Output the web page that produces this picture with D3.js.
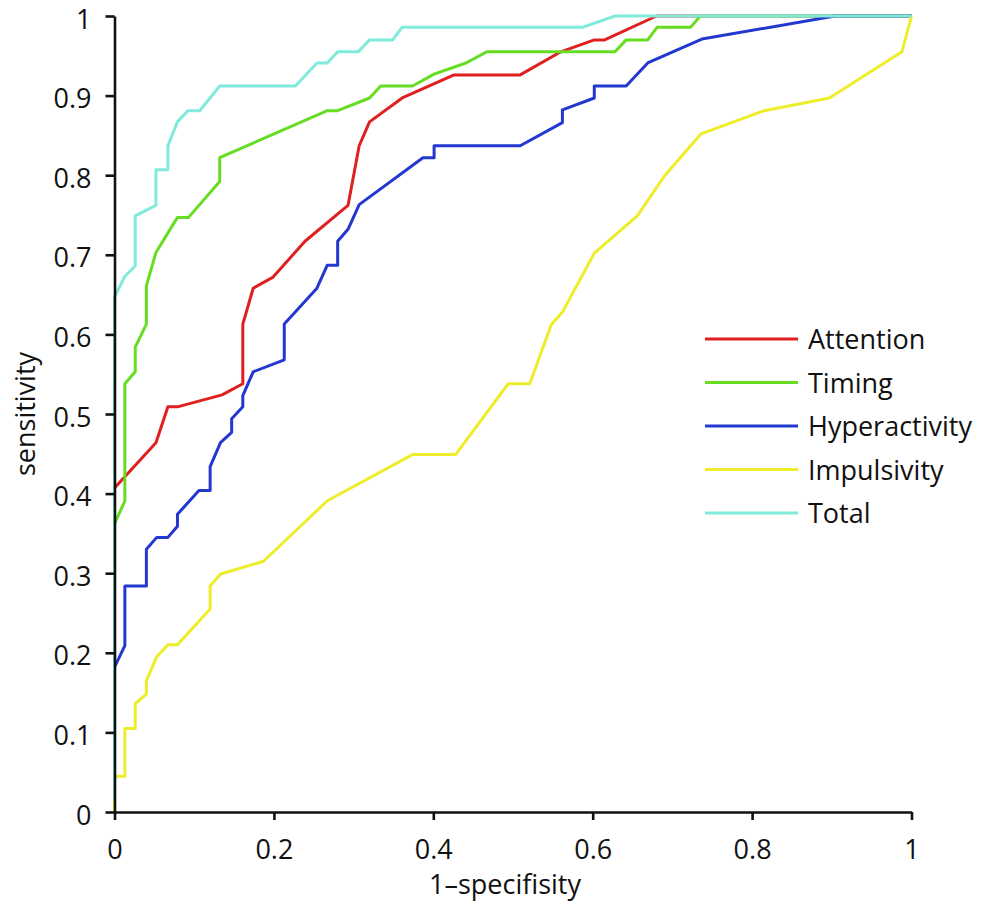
<!DOCTYPE html>
<html>
<head>
<meta charset="utf-8">
<script src="https://cdn.jsdelivr.net/npm/d3@7"></script>
<style>
  body { margin: 0; background: #fff; }
  svg text { font-family: "Open Sans", "Noto Sans", sans-serif; fill: #111; }
</style>
</head>
<body>
<svg id="chart" width="984" height="905"></svg>
<script>
  // ROC curves, [1-specificity, sensitivity]
  const attention = [[0,0],[0,0.407],[0.052,0.464],[0.067,0.509],[0.079,0.509],[0.135,0.524],[0.161,0.538],[0.161,0.613],[0.174,0.658],[0.199,0.672],[0.239,0.717],[0.293,0.762],[0.307,0.837],[0.320,0.867],[0.361,0.897],[0.426,0.926],[0.509,0.926],[0.560,0.955],[0.602,0.970],[0.615,0.970],[0.680,1],[1,1]];
  const timing = [[0,0],[0,0.362],[0.013,0.391],[0.013,0.538],[0.026,0.553],[0.026,0.584],[0.040,0.613],[0.040,0.661],[0.052,0.703],[0.079,0.747],[0.093,0.747],[0.132,0.792],[0.132,0.822],[0.267,0.881],[0.280,0.881],[0.320,0.897],[0.334,0.912],[0.374,0.912],[0.401,0.927],[0.441,0.941],[0.467,0.955],[0.628,0.955],[0.642,0.970],[0.669,0.970],[0.681,0.986],[0.723,0.986],[0.735,1],[1,1]];
  const hyperactivity = [[0,0],[0,0.182],[0.013,0.209],[0.013,0.284],[0.040,0.284],[0.040,0.330],[0.053,0.345],[0.067,0.345],[0.079,0.359],[0.079,0.374],[0.106,0.404],[0.120,0.404],[0.120,0.434],[0.133,0.464],[0.147,0.477],[0.147,0.494],[0.161,0.509],[0.161,0.523],[0.174,0.553],[0.213,0.568],[0.213,0.613],[0.254,0.658],[0.267,0.687],[0.280,0.687],[0.280,0.717],[0.293,0.732],[0.307,0.763],[0.387,0.822],[0.401,0.822],[0.401,0.837],[0.509,0.837],[0.562,0.866],[0.562,0.882],[0.602,0.897],[0.602,0.912],[0.642,0.912],[0.669,0.941],[0.737,0.971],[0.904,1],[1,1]];
  const impulsivity = [[0,0],[0,0.045],[0.013,0.045],[0.013,0.105],[0.026,0.105],[0.026,0.136],[0.040,0.148],[0.040,0.165],[0.053,0.195],[0.067,0.210],[0.079,0.210],[0.120,0.255],[0.120,0.284],[0.133,0.299],[0.187,0.315],[0.267,0.391],[0.374,0.449],[0.428,0.449],[0.494,0.538],[0.521,0.538],[0.548,0.612],[0.562,0.628],[0.602,0.702],[0.656,0.749],[0.690,0.799],[0.736,0.852],[0.815,0.881],[0.897,0.897],[0.988,0.955],[1,1]];
  const total = [[0,0.015],[0,0.647],[0.013,0.673],[0.026,0.686],[0.026,0.749],[0.052,0.762],[0.052,0.807],[0.067,0.807],[0.067,0.837],[0.079,0.867],[0.092,0.881],[0.107,0.881],[0.132,0.912],[0.227,0.912],[0.254,0.941],[0.267,0.941],[0.280,0.955],[0.306,0.955],[0.320,0.970],[0.349,0.970],[0.361,0.986],[0.588,0.986],[0.628,1],[1,1]];

  const seriesNames = ["Attention", "Timing", "Hyperactivity", "Impulsivity", "Total"];
  const seriesData = [attention, timing, hyperactivity, impulsivity, total];
  const seriesColors = ["#e02020", "#66dd22", "#2238d0", "#eded2a", "#80eadb"];
  const xTicks = [0, 0.2, 0.4, 0.6, 0.8, 1];
  const yTicks = [0, 0.1, 0.2, 0.3, 0.4, 0.5, 0.6, 0.7, 0.8, 0.9, 1];

  const svg = d3.select("#chart");
  const margin = { left: 114.5, top: 16 };
  const w = 797, h = 796;

  const x = d3.scaleLinear().domain([0, 1]).range([margin.left, margin.left + w]);
  const y = d3.scaleLinear().domain([0, 1]).range([margin.top + h, margin.top]);

  const line = d3.line().x(d => x(d[0])).y(d => y(d[1]));

  // curves
  seriesData.forEach((data, i) => {
    svg.append("path")
      .datum(data)
      .attr("d", line)
      .attr("fill", "none")
      .attr("stroke", seriesColors[i])
      .attr("stroke-width", 3)
      .attr("stroke-linejoin", "round");
  });

  const fmt = d => d === 0 || d === 1 ? String(d) : d3.format(".1f")(d);

  const xAxis = svg.append("g")
    .attr("transform", `translate(0,${margin.top + h})`)
    .call(d3.axisBottom(x).tickValues(xTicks).tickFormat(fmt).tickSize(8).tickSizeOuter(0).tickPadding(20));

  const yAxis = svg.append("g")
    .attr("transform", `translate(${margin.left},0)`)
    .call(d3.axisLeft(y).tickValues(yTicks).tickFormat(fmt).tickSize(9).tickSizeOuter(0).tickPadding(14));

  [xAxis, yAxis].forEach(g => {
    g.select(".domain").attr("stroke", "#111").attr("stroke-width", 2.6);
    g.selectAll(".tick line").attr("stroke", "#111").attr("stroke-width", 2.6);
    g.selectAll(".tick text")
      .attr("font-size", 27)
      .attr("font-family", "'Open Sans', sans-serif")
      .attr("fill", "#111");
  });
  // labels sit a little below their ticks in the reference
  yAxis.selectAll(".tick text").attr("dy", "0.45em");

  // axis titles
  svg.append("text")
    .attr("x", x(0.5) - 8)
    .attr("y", 894)
    .attr("text-anchor", "middle")
    .attr("font-size", 27)
    .text("1–specifisity");

  svg.append("text")
    .attr("transform", `translate(35,${y(0.5)}) rotate(-90)`)
    .attr("text-anchor", "middle")
    .attr("font-size", 27)
    .text("sensitivity");

  // legend
  const legend = svg.append("g").attr("transform", "translate(705,339)");
  seriesNames.forEach((name, i) => {
    const row = legend.append("g").attr("transform", `translate(0,${i * 43.5})`);
    row.append("line")
      .attr("x1", 0).attr("x2", 93)
      .attr("stroke", seriesColors[i])
      .attr("stroke-width", 3);
    row.append("text")
      .attr("x", 103)
      .attr("dy", "0.38em")
      .attr("font-size", 27)
      .text(name);
  });
</script>
</body>
</html>
